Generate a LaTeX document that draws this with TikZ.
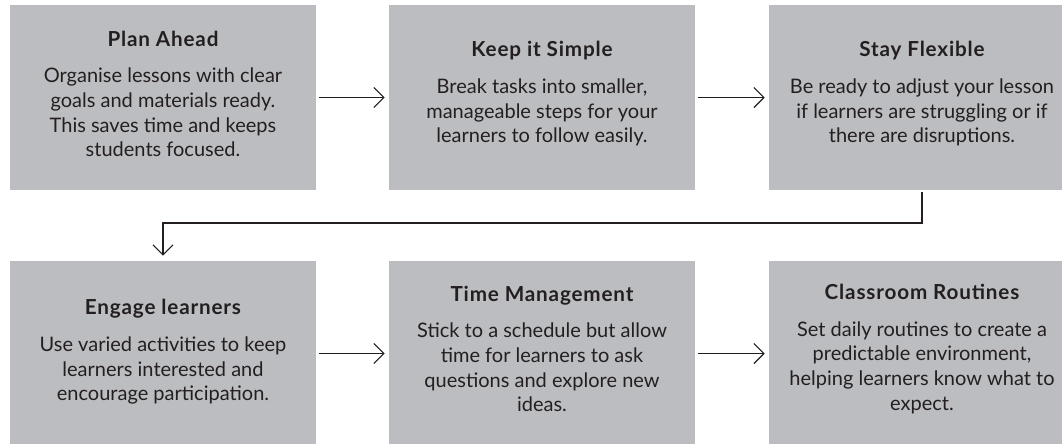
\documentclass[tikz,border=0pt]{standalone}
\usepackage{fontspec}
\setmainfont{Lato}
\usetikzlibrary{arrows.meta}
\definecolor{boxgrey}{HTML}{BCBDC0}
\definecolor{ink}{HTML}{231F20}
\tikzset{
  stepbox/.style={rectangle, fill=boxgrey, draw=none, minimum width=229.5pt, minimum height=138.75pt, inner sep=0pt},
  steptext/.style={inner sep=0pt, align=center, text=ink, font=\fontsize{15}{18.5}\selectfont},
  flow/.style={draw=ink, line width=0.9pt, -{Straight Barb[length=7.5pt,width=15pt,line width=0.9pt]}},
}
\newcommand{\hd}[1]{{\bfseries\addfontfeature{LetterSpace=4}\fontsize{15.5}{18.5}\selectfont #1}\\[9pt]}
\begin{document}
\begin{tikzpicture}[x=0.75pt,y=-0.75pt]
\fill[white] (0,0) rectangle (1062,443);
\useasboundingbox (0,0) rectangle (1062,443);
\clip (0,0) rectangle (1062,443);
\node[stepbox] (b1) at (163,97.5) {};
\node[stepbox] (b2) at (542,97.5) {};
\node[stepbox] (b3) at (922,97.5) {};
\node[stepbox] (b4) at (163,353.5) {};
\node[stepbox] (b5) at (542,353.5) {};
\node[stepbox] (b6) at (922,353.5) {};
\node[steptext] (t1) at (163,94) {\hd{Plan Ahead}Organise lessons with clear\\goals and materials ready.\\This saves time and keeps\\students focused.};
\node[steptext] (t2) at (542,94) {\hd{Keep it Simple}Break tasks into smaller,\\manageable steps for your\\learners to follow easily.};
\node[steptext] (t3) at (922,94) {\hd{Stay Flexible}Be ready to adjust your lesson\\if learners are struggling or if\\there are disruptions.};
\node[steptext] (t4) at (163,352) {\hd{Engage learners}Use varied activities to keep\\learners interested and\\encourage participation.};
\node[steptext] (t5) at (542,349) {\hd{Time Management}Stick to a schedule but allow\\time for learners to ask\\questions and explore new\\ideas.};
\node[steptext] (t6) at (922,349) {\hd{Classroom Routines}Set daily routines to create a\\predictable environment,\\helping learners know what to\\expect.};
\draw[flow, shorten <=2.25pt, shorten >=3pt] (b1) -- (b2);
\draw[flow, shorten <=2.25pt, shorten >=3pt] (b2) -- (b3);
\draw[flow, shorten <=2.25pt, shorten >=3pt] (b4) -- (b5);
\draw[flow, shorten <=2.25pt, shorten >=3pt] (b5) -- (b6);
\coordinate (bend) at (922,223);
\draw[flow, shorten <=1.5pt, shorten >=3.75pt] (b3.south) -- (bend) -| (b4.north);
\end{tikzpicture}
\end{document}
